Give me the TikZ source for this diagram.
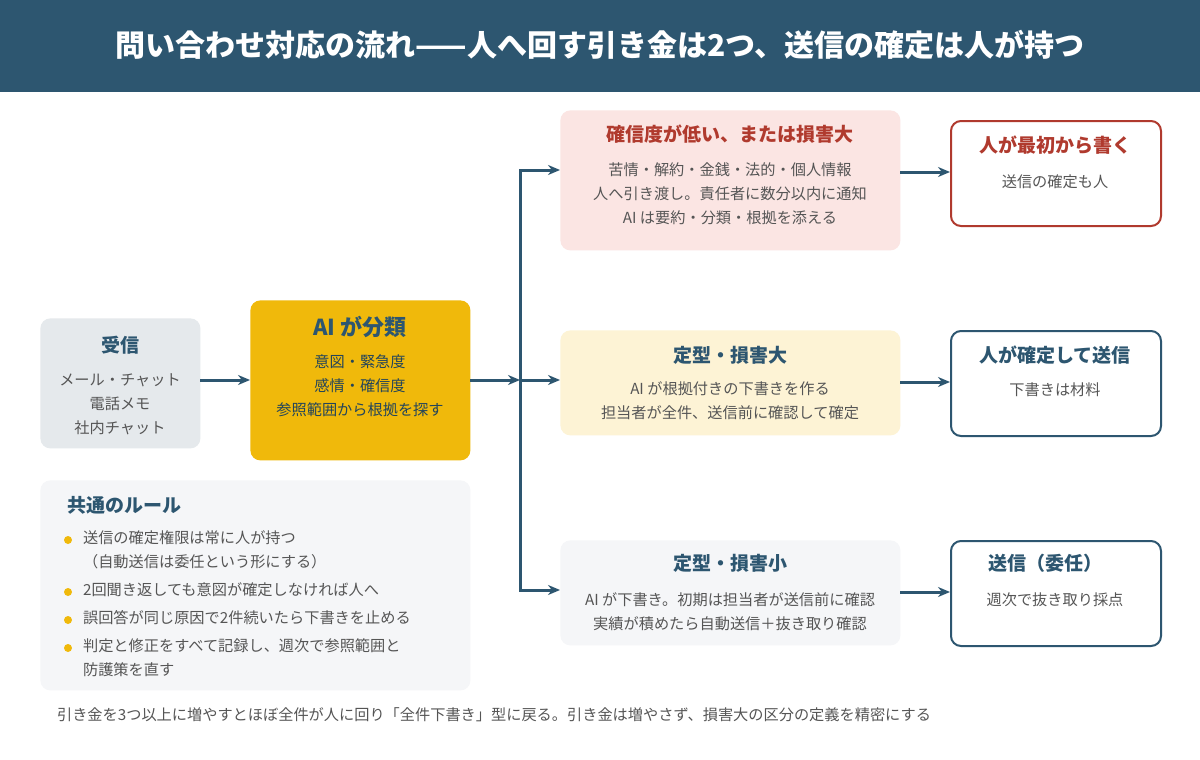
\documentclass[tikz,border=0pt]{standalone}
\usepackage{fontspec}
\setmainfont{Noto Sans CJK JP}
\usetikzlibrary{arrows.meta,positioning}
\definecolor{navy}{HTML}{2D5670}
\definecolor{redt}{HTML}{B03A2E}
\definecolor{grayt}{HTML}{555555}
\definecolor{gbox}{HTML}{E5E9EC}
\definecolor{gold}{HTML}{F0B90B}
\definecolor{pinkbox}{HTML}{FBE5E3}
\definecolor{creambox}{HTML}{FDF3D5}
\definecolor{lightbox}{HTML}{F5F6F8}
\tikzset{
  box/.style={rectangle, rounded corners=5pt, anchor=north west, inner sep=0pt},
  head/.style={font=\bfseries\fontsize{9.5}{11}\selectfont, text=navy},
  body/.style={font=\fontsize{7.6}{12}\selectfont, text=grayt, align=center},
  flow/.style={-{Stealth[length=6pt,width=5pt]}, line width=1.5pt, draw=navy},
  dot/.style={circle, fill=gold, inner sep=0pt, minimum size=4pt},
  rule/.style={font=\fontsize{7.6}{12}\selectfont, text=grayt, anchor=west}
}
\begin{document}
\begin{tikzpicture}[x=0.5pt, y=-0.5pt]
\useasboundingbox (0,0) rectangle (1200,760);
\fill[white] (0,0) rectangle (1200,760);
\fill[navy] (0,0) rectangle (1200,92);
\node[font=\bfseries\fontsize{15}{18}\selectfont, text=white] (title) at (600,45)
  {問い合わせ対応の流れ——人へ回す引き金は2つ、送信の確定は人が持つ};

% left column
\node[box, fill=gbox, minimum width=80pt, minimum height=65pt] (recv) at (40,318) {};
\node[head] at (120,345) {受信};
\node[body] at (120,404) {メール・チャット\\電話メモ\\社内チャット};

\node[box, fill=gold, minimum width=110pt, minimum height=80pt] (ai) at (250,300) {};
\node[head, text=navy, font=\bfseries\fontsize{11}{13}\selectfont] at (360,327) {AI が分類};
\node[body, text=navy!80!black] at (360,386) {意図・緊急度\\感情・確信度\\参照範囲から根拠を探す};

\node[box, fill=lightbox, minimum width=215pt, minimum height=105pt] (rules) at (40,480) {};
\node[head, anchor=west] at (60,505) {共通のルール};
\foreach \y/\t in {538/送信の確定権限は常に人が持つ, 590/2回聞き返しても意図が確定しなければ人へ,
  618/誤回答が同じ原因で2件続いたら下書きを止める, 646/判定と修正をすべて記録し、週次で参照範囲と}
  {\node[dot] at (68,\y+2) {}; \node[rule] at (76,\y) {\t};}
\node[rule] at (76,562) {（自動送信は委任という形にする）};
\node[rule] at (76,670) {防護策を直す};

% middle column
\node[box, fill=pinkbox, minimum width=170pt, minimum height=70pt] (low) at (560,110) {};
\node[head, text=redt] at (730,134) {確信度が低い、または損害大};
\node[body] at (730,194) {苦情・解約・金銭・法的・個人情報\\人へ引き渡し。責任者に数分以内に通知\\AI は要約・分類・根拠を添える};

\node[box, fill=creambox, minimum width=170pt, minimum height=52.5pt] (fixbig) at (560,330) {};
\node[head] at (730,355) {定型・損害大};
\node[body] at (730,401) {AI が根拠付きの下書きを作る\\担当者が全件、送信前に確認して確定};

\node[box, fill=lightbox, minimum width=170pt, minimum height=52.5pt] (fixsmall) at (560,540) {};
\node[head] at (730,563) {定型・損害小};
\node[body] at (730,612) {AI が下書き。初期は担当者が送信前に確認\\実績が積めたら自動送信＋抜き取り確認};

% right column
\node[box, draw=redt, line width=1pt, fill=white, minimum width=105pt, minimum height=52.5pt] (human) at (950,120) {};
\node[head, text=redt] at (1055,145) {人が最初から書く};
\node[body] at (1055,182) {送信の確定も人};

\node[box, draw=navy, line width=1pt, fill=white, minimum width=105pt, minimum height=52.5pt] (confirm) at (950,330) {};
\node[head] at (1055,355) {人が確定して送信};
\node[body] at (1055,390) {下書きは材料};

\node[box, draw=navy, line width=1pt, fill=white, minimum width=105pt, minimum height=52.5pt] (send) at (950,540) {};
\node[head] at (1045,563) {送信（委任）};
\node[body] at (1055,600) {週次で抜き取り採点};

% connectors
\coordinate (split) at (520,380);
\draw[flow] (200,380) -- (250,380);
\draw[flow] (470,380) -- (split);
\draw[line width=1.5pt, navy] (520,170) -- (520,590);
\draw[flow] (split) |- (560,170);
\draw[flow] (split) -- (560,380);
\draw[flow] (split) |- (560,590);
\draw[flow] (900,172) -- (950,172);
\draw[flow] (900,382) -- (950,382);
\draw[flow] (900,592) -- (950,592);

\node[body, anchor=west] (note) at (50,715)
  {引き金を3つ以上に増やすとほぼ全件が人に回り「全件下書き」型に戻る。引き金は増やさず、損害大の区分の定義を精密にする};
\end{tikzpicture}
\end{document}
